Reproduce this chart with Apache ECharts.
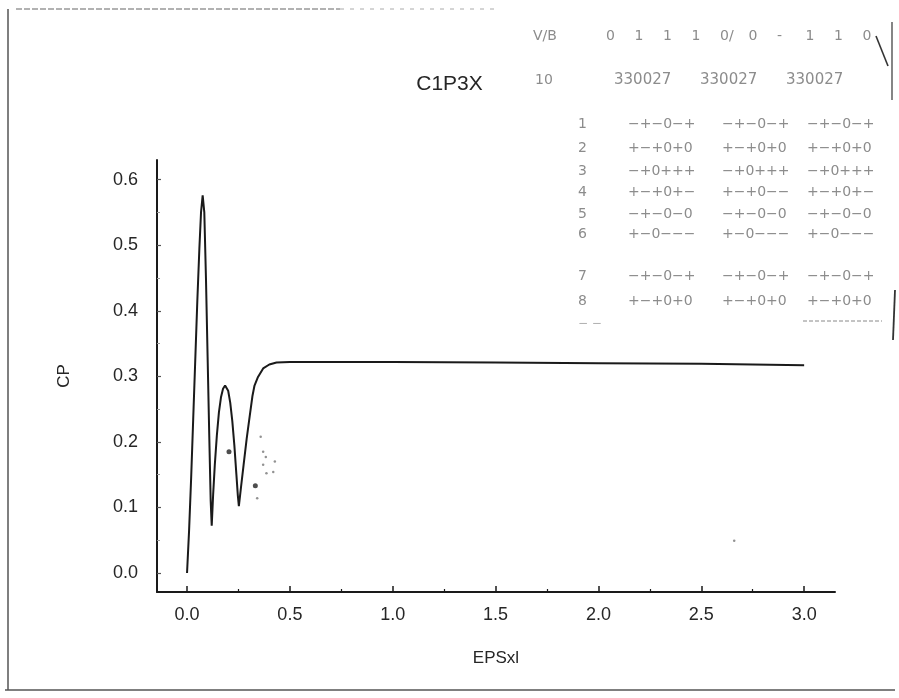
<!DOCTYPE html>
<html><head><meta charset="utf-8">
<script src="https://cdn.jsdelivr.net/npm/echarts@6/dist/echarts.min.js"></script>
<style>html,body{margin:0;padding:0;background:#fff}#c{width:899px;height:698px}</style>
</head><body><div id="c"></div>
<script>
// ---- data ----
const epsX = [0,0.01,0.02,0.03,0.04,0.05,0.06,0.068,0.076,0.084,0.092,0.1,0.108,0.115,0.12,0.127,0.135,0.145,0.155,0.165,0.175,0.185,0.192,0.2,0.21,0.22,0.23,0.24,0.247,0.252,0.262,0.275,0.29,0.305,0.318,0.328,0.345,0.37,0.4,0.435,0.5,0.75,1.0,1.5,2.0,2.5,3.0];
const cpY  = [0,0.065,0.145,0.235,0.325,0.415,0.495,0.55,0.576,0.55,0.45,0.33,0.21,0.11,0.072,0.12,0.165,0.21,0.245,0.268,0.281,0.286,0.285,0.278,0.26,0.232,0.195,0.15,0.118,0.102,0.13,0.165,0.205,0.24,0.27,0.286,0.299,0.312,0.318,0.321,0.322,0.322,0.322,0.321,0.320,0.319,0.317];
const dotX  = [0.204,0.332];
const dotY  = [0.185,0.133];
const speckX = [0.358,0.37,0.383,0.427,0.37,0.419,0.386,0.341,2.66];
const speckY = [0.208,0.185,0.177,0.17,0.165,0.154,0.152,0.114,0.049];
const xTicks = [0,0.5,1.0,1.5,2.0,2.5,3.0];
const xMinorTicks = [0.25,0.75,1.25,1.75,2.25,2.75];
const yTicks = [0,0.1,0.2,0.3,0.4,0.5,0.6];
const yMinorTicks = [0.05,0.15,0.25,0.35,0.45,0.55];
const chartTitle = 'C1P3X';
const xName = 'EPSxl';
const yName = 'CP';
const headerLabels = ['V/B','10'];
const headerRow1 = ['0','1','1','1','0/','0','-','1','1','0'];
const headerRow2 = ['330027','330027','330027'];
const rowLabels = ['1','2','3','4','5','6','7','8'];
const rowCells = [
  ['−+−0−+','−+−0−+','−+−0−+'],
  ['+−+0+0','+−+0+0','+−+0+0'],
  ['−+0+++','−+0+++','−+0+++'],
  ['+−+0+−','+−+0−−','+−+0+−'],
  ['−+−0−0','−+−0−0','−+−0−0'],
  ['+−0−−−','+−0−−−','+−0−−−'],
  ['−+−0−+','−+−0−+','−+−0−+'],
  ['+−+0+0','+−+0+0','+−+0+0']
];

// ---- layout ----
const FONT = 'Liberation Sans, Arial, sans-serif';
const INK = '#262626';
const TABLE_INK = '#8c8c8c';
const TFONT = '14px DejaVu Sans';
const rowYs = [125,149,172,193,215,235,277,302];
const colXs = [628,722,807];

const tableGraphics = [];
tableGraphics.push({type:'text', left:533, top:29, style:{text:headerLabels[0], font:TFONT, fill:TABLE_INK}});
tableGraphics.push({type:'text', left:535, top:73, style:{text:headerLabels[1], font:TFONT, fill:TABLE_INK}});
headerRow1.forEach((t,i)=>{
  tableGraphics.push({type:'text', left:606 + i*28.5, top:29, style:{text:t, font:TFONT, fill:TABLE_INK}});
});
headerRow2.forEach((t,i)=>{
  tableGraphics.push({type:'text', left:614 + i*86, top:73, style:{text:t, font:'15px DejaVu Sans', fill:TABLE_INK}});
});
rowLabels.forEach((t,i)=>{
  tableGraphics.push({type:'text', left:578, top:rowYs[i]-8, style:{text:t, font:TFONT, fill:TABLE_INK}});
  rowCells[i].forEach((c,j)=>{
    tableGraphics.push({type:'text', left:colXs[j], top:rowYs[i]-8, style:{text:c, font:TFONT, fill:TABLE_INK}});
  });
});
tableGraphics.push({type:'text', left:578, top:318, style:{text:'− −', font:'12px DejaVu Sans', fill:'#b0b0b0'}});

const frameGraphics = [
  {type:'line', shape:{x1:8,y1:9,x2:8,y2:690}, style:{stroke:'#555',lineWidth:1.5}},
  {type:'line', shape:{x1:16,y1:9,x2:340,y2:9}, style:{stroke:'#666',lineWidth:1.2,lineDash:[6,2]}},
  {type:'line', shape:{x1:340,y1:9,x2:500,y2:9}, style:{stroke:'#aaa',lineWidth:1,lineDash:[4,6]}},
  {type:'line', shape:{x1:5,y1:690,x2:895,y2:690}, style:{stroke:'#555',lineWidth:1.5}},
  {type:'line', shape:{x1:876,y1:36,x2:888,y2:66}, style:{stroke:'#333',lineWidth:1.6}},
  {type:'line', shape:{x1:892,y1:22,x2:892,y2:100}, style:{stroke:'#444',lineWidth:1.3}},
  {type:'line', shape:{x1:895,y1:290,x2:893,y2:340}, style:{stroke:'#333',lineWidth:1.8}},
  {type:'line', shape:{x1:803,y1:321,x2:882,y2:321}, style:{stroke:'#888',lineWidth:1,lineDash:[4,2]}}
];

const chart = echarts.init(document.getElementById('c'), null, {renderer:'canvas'});
const zip = (a,b)=>a.map((v,i)=>[v,b[i]]);
const fmt = v => v.toFixed(1);

chart.setOption({
  backgroundColor:'#ffffff',
  animation:false,
  title:{text:chartTitle, left:'center', top:69, textStyle:{fontFamily:FONT, fontSize:21, fontWeight:'normal', color:INK}},
  grid:{left:157, right:64, top:160, bottom:106},
  xAxis:[
    {type:'value', min:-0.146, max:3.15, name:xName, nameLocation:'middle', nameGap:58,
     nameTextStyle:{fontFamily:FONT, fontSize:17, color:INK},
     axisLine:{onZero:false, lineStyle:{color:'#1a1a1a', width:2}},
     axisTick:{show:true, inside:true, length:6, customValues:xTicks, lineStyle:{color:'#1a1a1a', width:1.5}},
     axisLabel:{customValues:xTicks, formatter:fmt, margin:14, fontFamily:FONT, fontSize:18, color:INK},
     splitLine:{show:false}},
    {type:'value', min:-0.146, max:3.15, position:'bottom',
     axisLine:{show:false, onZero:false},
     axisTick:{show:true, inside:true, length:3, customValues:xMinorTicks, lineStyle:{color:'#1a1a1a', width:1.2}},
     axisLabel:{show:false}, splitLine:{show:false}}
  ],
  yAxis:[
    {type:'value', min:-0.029, max:0.63, name:yName, nameLocation:'middle', nameGap:84,
     nameTextStyle:{fontFamily:FONT, fontSize:17, color:INK},
     axisLine:{show:true, onZero:false, lineStyle:{color:'#1a1a1a', width:2}},
     axisTick:{show:true, inside:true, length:4, customValues:yTicks, lineStyle:{color:'#555', width:1.2}},
     axisLabel:{customValues:yTicks, formatter:fmt, margin:19, fontFamily:FONT, fontSize:18, color:INK},
     splitLine:{show:false}},
    {type:'value', min:-0.029, max:0.63, position:'left',
     axisLine:{show:false, onZero:false},
     axisTick:{show:true, inside:true, length:3, customValues:yMinorTicks, lineStyle:{color:'#999', width:1}},
     axisLabel:{show:false}, splitLine:{show:false}}
  ],
  series:[
    {type:'line', name:'CP', xAxisIndex:0, yAxisIndex:0, data:zip(epsX,cpY), showSymbol:false, smooth:false,
     lineStyle:{color:'#1a1a1a', width:2}},
    {type:'scatter', name:'dots', xAxisIndex:0, yAxisIndex:0, data:zip(dotX,dotY), symbolSize:5, itemStyle:{color:'#222'}},
    {type:'scatter', name:'specks', xAxisIndex:0, yAxisIndex:0, data:zip(speckX,speckY), symbolSize:2.5, itemStyle:{color:'#777'}}
  ],
  graphic: tableGraphics.concat(frameGraphics)
});
</script>
</body></html>
